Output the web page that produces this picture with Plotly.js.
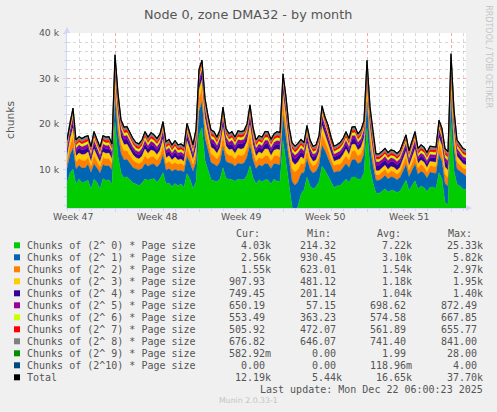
<!DOCTYPE html>
<html><head><meta charset="utf-8">
<script src="https://cdn.plot.ly/plotly-3.0.1.min.js"></script>
<style>html,body{margin:0;padding:0;background:#F0F0F0}</style>
</head><body><div id="chart" style="width:497px;height:412px"></div>
<script>
// ---- data (values in thousands of chunks), one sample every 6 hours ----
const startTime = '2025-11-19 00:00';
const stepMs = 21600000;

const chunks0 = [7.0,9.2,10.1,6.7,7.9,7.0,7.3,7.6,5.7,7.8,
7.1,5.7,8.0,7.5,7.7,6.7,20.4,12.9,9.2,8.1,
8.4,7.8,7.0,6.8,6.4,7.0,7.9,7.6,7.8,8.0,
7.1,8.0,9.3,6.8,7.0,6.2,6.9,6.4,6.8,6.0,
9.1,7.8,5.8,7.2,17.5,19.2,12.0,9.9,7.7,7.5,
7.3,7.9,10.4,8.0,7.9,7.7,7.4,7.8,7.7,7.7,
8.7,10.8,8.2,6.8,7.7,7.2,7.7,7.7,6.8,7.8,
7.4,7.3,16.4,11.7,5.9,1.8,0.7,1.9,4.5,5.5,
8.3,6.4,5.7,6.2,7.3,10.7,9.8,8.5,7.1,6.0,
6.4,6.4,7.1,7.8,7.1,8.3,8.3,7.8,7.9,9.3,
19.1,10.2,7.0,4.8,4.7,5.2,5.7,5.0,5.4,5.3,
4.9,5.2,6.4,7.6,5.3,6.5,7.5,5.7,6.3,6.0,
5.1,6.1,6.1,5.8,9.3,7.9,2.7,2.3,20.4,9.7,
6.7,6.3,5.7,5.5];
const chunks1 = [3.2,4.0,4.6,3.4,3.0,3.3,3.0,3.5,3.6,3.4,
3.2,3.5,3.0,3.3,3.1,3.2,5.6,5.0,4.3,4.0,
3.8,3.6,3.4,3.3,3.5,3.2,3.4,3.1,3.3,3.2,
3.4,3.3,3.9,3.0,3.2,3.4,3.1,3.3,3.0,3.4,
3.8,3.6,3.8,4.4,5.4,5.6,4.9,4.4,3.8,3.7,
3.4,3.7,4.6,3.8,3.5,3.6,3.3,3.6,3.5,3.7,
4.0,4.7,3.9,3.4,3.3,3.5,3.6,3.5,3.4,3.5,
3.8,3.7,5.5,5.3,5.2,5.6,5.8,5.4,4.6,3.8,
4.0,3.6,3.5,3.4,3.6,4.6,4.3,4.0,3.5,3.3,
3.2,3.2,3.3,3.5,3.3,3.8,3.9,3.5,3.7,4.1,
5.7,4.8,3.8,2.8,2.9,2.8,3.0,2.9,3.0,2.9,
2.8,3.0,3.2,3.5,3.1,3.3,3.7,3.2,3.3,3.2,
3.0,3.3,3.2,3.3,4.1,3.9,4.2,4.0,5.8,4.7,
3.4,3.3,3.2,3.1];
const chunks2 = [1.5,2.0,2.5,1.6,1.5,1.7,1.6,1.5,1.4,1.8,
1.5,1.4,1.6,1.5,1.6,1.4,2.9,2.6,2.1,1.9,
1.9,1.7,1.6,1.5,1.4,1.5,1.7,1.6,1.7,1.6,
1.5,1.7,2.0,1.5,1.6,1.5,1.5,1.4,1.5,1.4,
1.9,1.7,1.5,1.9,2.8,2.9,2.5,2.2,1.9,1.8,
1.6,1.8,2.4,1.9,1.7,1.7,1.6,1.8,1.8,1.8,
2.0,2.4,1.9,1.5,1.6,1.6,1.7,1.8,1.6,1.7,
1.8,1.8,2.8,2.7,2.6,2.8,2.9,2.7,2.2,1.8,
2.0,1.7,1.6,1.5,1.7,2.4,2.1,2.0,1.7,1.5,
1.5,1.5,1.6,1.7,1.6,1.9,1.9,1.7,1.8,2.0,
2.9,2.5,1.8,1.2,1.2,1.3,1.3,1.2,1.3,1.3,
1.2,1.3,1.5,1.7,1.4,1.5,1.8,1.4,1.5,1.4,
1.3,1.4,1.4,1.5,2.1,1.9,2.0,1.9,2.9,2.4,
1.6,1.5,1.4,1.4];
const chunks3 = [1.20,1.45,1.90,1.18,1.22,1.20,1.43,1.21,0.95,1.47,
1.19,0.96,1.22,1.20,1.18,0.94,1.92,1.88,1.46,1.44,
1.45,1.21,1.19,0.95,0.97,1.20,1.46,1.18,1.44,1.22,
1.20,1.21,1.45,1.19,1.20,0.94,1.21,0.96,0.95,0.93,
1.47,1.20,0.95,1.45,1.90,1.93,1.87,1.46,1.44,1.45,
1.20,1.44,1.90,1.46,1.19,1.45,1.21,1.43,1.45,1.47,
1.44,1.91,1.45,1.20,1.22,1.18,1.46,1.45,1.20,1.21,
1.44,1.46,1.92,1.88,1.62,1.58,1.60,1.61,1.45,1.20,
1.46,1.19,0.95,0.96,1.21,1.90,1.45,1.44,1.20,0.95,
0.94,1.20,1.21,1.45,1.19,1.46,1.44,1.20,1.45,1.46,
1.95,1.89,1.45,0.90,0.88,0.92,0.90,0.89,0.91,0.90,
0.88,0.92,1.20,1.21,0.95,1.20,1.45,0.96,0.94,0.95,
0.93,0.95,0.96,0.95,1.46,1.44,1.60,1.58,1.94,1.90,
1.20,0.95,0.94,0.96];
const chunks4 = [1.05,1.15,1.38,1.04,1.06,1.05,1.14,1.05,0.95,1.16,
1.05,0.94,1.06,1.05,1.04,0.95,1.38,1.36,1.15,1.14,
1.16,1.05,1.04,0.95,0.96,1.05,1.15,1.04,1.15,1.06,
1.05,1.05,1.15,1.04,1.05,0.95,1.06,0.94,0.95,0.96,
1.15,1.05,0.95,1.16,1.37,1.39,1.36,1.15,1.14,1.15,
1.05,1.15,1.38,1.16,1.04,1.15,1.05,1.14,1.15,1.16,
1.15,1.38,1.14,1.05,1.06,1.04,1.15,1.15,1.05,1.06,
1.15,1.14,1.39,1.37,1.30,1.31,1.29,1.30,1.15,1.05,
1.16,1.05,0.95,0.94,1.05,1.38,1.15,1.14,1.05,0.95,
0.96,1.05,1.04,1.15,1.05,1.16,1.15,1.05,1.14,1.15,
1.38,1.36,1.15,1.20,1.22,1.19,1.21,1.20,1.18,1.20,
1.21,1.19,1.05,1.04,0.95,1.05,1.15,0.94,0.95,0.96,
0.95,0.94,0.95,0.96,1.15,1.14,1.30,1.31,1.40,1.37,
1.05,0.95,0.94,0.95];
const chunks5 = [0.70,0.78,0.86,0.69,0.71,0.70,0.77,0.70,0.62,0.78,
0.70,0.61,0.71,0.70,0.69,0.62,0.87,0.85,0.78,0.77,
0.78,0.70,0.69,0.62,0.63,0.70,0.78,0.69,0.77,0.71,
0.70,0.70,0.78,0.69,0.70,0.62,0.71,0.61,0.62,0.63,
0.78,0.70,0.62,0.79,0.86,0.87,0.85,0.78,0.77,0.78,
0.70,0.78,0.86,0.79,0.69,0.78,0.70,0.77,0.78,0.79,
0.78,0.86,0.77,0.70,0.71,0.69,0.78,0.78,0.70,0.71,
0.78,0.77,0.87,0.85,0.80,0.81,0.79,0.80,0.78,0.70,
0.79,0.70,0.62,0.61,0.70,0.86,0.78,0.77,0.70,0.62,
0.63,0.70,0.69,0.78,0.70,0.79,0.78,0.70,0.77,0.78,
0.86,0.85,0.78,0.75,0.76,0.74,0.75,0.76,0.74,0.75,
0.76,0.74,0.70,0.69,0.62,0.70,0.78,0.61,0.62,0.63,
0.62,0.61,0.62,0.63,0.78,0.77,0.80,0.81,0.87,0.86,
0.70,0.62,0.61,0.62];
const chunks6 = [0.57,0.60,0.66,0.57,0.58,0.57,0.60,0.57,0.54,0.61,
0.57,0.54,0.58,0.57,0.56,0.54,0.66,0.65,0.60,0.60,
0.61,0.57,0.56,0.54,0.55,0.57,0.60,0.56,0.60,0.58,
0.57,0.57,0.60,0.56,0.57,0.54,0.58,0.53,0.54,0.55,
0.60,0.57,0.54,0.61,0.66,0.67,0.65,0.60,0.60,0.61,
0.57,0.60,0.66,0.61,0.56,0.60,0.57,0.60,0.60,0.61,
0.60,0.66,0.60,0.57,0.58,0.56,0.60,0.60,0.57,0.58,
0.60,0.60,0.67,0.65,0.62,0.63,0.61,0.62,0.60,0.57,
0.61,0.57,0.54,0.53,0.57,0.66,0.60,0.60,0.57,0.54,
0.55,0.57,0.56,0.60,0.57,0.61,0.60,0.57,0.60,0.60,
0.66,0.65,0.60,0.52,0.53,0.51,0.52,0.53,0.52,0.52,
0.53,0.51,0.57,0.56,0.54,0.57,0.60,0.53,0.54,0.55,
0.54,0.53,0.54,0.55,0.60,0.60,0.62,0.63,0.67,0.66,
0.57,0.54,0.53,0.54];
const chunks7 = [0.56,0.58,0.65,0.56,0.57,0.56,0.58,0.56,0.54,0.59,
0.56,0.54,0.57,0.56,0.55,0.54,0.65,0.64,0.58,0.58,
0.59,0.56,0.55,0.54,0.55,0.56,0.58,0.55,0.58,0.57,
0.56,0.56,0.58,0.55,0.56,0.54,0.57,0.53,0.54,0.55,
0.58,0.56,0.54,0.59,0.65,0.66,0.64,0.58,0.58,0.59,
0.56,0.58,0.65,0.59,0.55,0.58,0.56,0.58,0.58,0.59,
0.58,0.65,0.58,0.56,0.57,0.55,0.58,0.58,0.56,0.57,
0.58,0.58,0.66,0.64,0.62,0.63,0.61,0.62,0.58,0.56,
0.59,0.56,0.54,0.53,0.56,0.65,0.58,0.58,0.56,0.54,
0.55,0.56,0.55,0.58,0.56,0.59,0.58,0.56,0.58,0.58,
0.65,0.64,0.58,0.55,0.56,0.54,0.55,0.56,0.55,0.55,
0.56,0.54,0.56,0.55,0.54,0.56,0.58,0.53,0.54,0.55,
0.54,0.53,0.54,0.55,0.58,0.58,0.62,0.63,0.66,0.65,
0.56,0.54,0.53,0.54];
const chunks8 = [0.74,0.77,0.83,0.74,0.75,0.74,0.77,0.74,0.71,0.78,
0.74,0.71,0.75,0.74,0.73,0.71,0.83,0.82,0.77,0.77,
0.78,0.74,0.73,0.71,0.72,0.74,0.77,0.73,0.77,0.75,
0.74,0.74,0.77,0.73,0.74,0.71,0.75,0.70,0.71,0.72,
0.77,0.74,0.71,0.78,0.83,0.84,0.82,0.77,0.77,0.78,
0.74,0.77,0.83,0.78,0.73,0.77,0.74,0.77,0.77,0.78,
0.77,0.83,0.77,0.74,0.75,0.73,0.77,0.77,0.74,0.75,
0.77,0.77,0.84,0.82,0.80,0.81,0.79,0.80,0.77,0.74,
0.78,0.74,0.71,0.70,0.74,0.83,0.77,0.77,0.74,0.71,
0.72,0.74,0.73,0.77,0.74,0.78,0.77,0.74,0.77,0.77,
0.83,0.82,0.77,0.72,0.73,0.71,0.72,0.73,0.72,0.72,
0.73,0.71,0.74,0.73,0.71,0.74,0.77,0.70,0.71,0.72,
0.71,0.70,0.71,0.72,0.77,0.77,0.80,0.81,0.84,0.83,
0.74,0.71,0.70,0.71];
const chunks9 = [0,0,0.002,0,0,0,0.001,0,0,0,
0,0,0,0.001,0,0,0.028,0.004,0,0,
0,0.001,0,0,0,0,0.002,0,0,0,
0,0,0.003,0,0,0,0,0,0.001,0,
0.002,0,0,0,0.012,0.015,0.004,0,0,0.001,
0,0,0.003,0,0,0,0.001,0,0,0,
0.002,0.006,0,0,0,0,0.001,0,0,0,
0,0,0.010,0.003,0.002,0,0,0,0,0,
0.001,0,0,0,0,0.004,0.002,0,0,0,
0,0,0,0.001,0,0,0.001,0,0,0.002,
0.014,0.003,0,0,0,0,0,0,0,0,
0,0,0,0.001,0,0,0.002,0,0,0,
0,0,0,0,0.003,0.001,0,0,0.016,0.002,
0,0,0,0.001];
const chunks10 = [0,0,0,0,0,0,0,0,0,0,
0,0,0,0,0,0,0.004,0,0,0,
0,0,0,0,0,0,0,0,0,0,
0,0,0,0,0,0,0,0,0,0,
0,0,0,0,0,0.001,0,0,0,0,
0,0,0,0,0,0,0,0,0,0,
0,0,0,0,0,0,0,0,0,0,
0,0,0,0,0,0,0,0,0,0,
0,0,0,0,0,0,0,0,0,0,
0,0,0,0,0,0,0,0,0,0,
0.002,0,0,0,0,0,0,0,0,0,
0,0,0,0,0,0,0,0,0,0,
0,0,0,0,0,0,0,0,0.004,0,
0,0,0,0];
const totalChunks = [16.5,20.5,23.5,16.5,17.2,16.8,17.2,17.4,15.0,18.3,
16.6,14.9,17.4,17.1,17.2,15.6,35.2,26.8,20.9,19.3,
19.4,17.9,16.8,15.9,15.6,16.5,18.3,17.1,18.1,17.6,
16.8,17.8,20.5,16.1,16.6,15.4,16.3,15.4,15.6,15.1,
20.1,17.9,15.4,18.8,32.0,34.0,25.7,21.8,18.7,18.3,
17.1,18.7,23.7,19.0,17.9,18.3,17.1,18.5,18.3,18.5,
20.0,24.2,19.3,16.5,17.4,17.1,18.3,18.3,16.6,17.8,
18.3,18.1,31.0,26.0,19.4,15.9,15.1,15.7,16.6,15.9,
19.6,16.5,15.1,15.4,17.4,24.0,21.5,19.8,17.1,15.1,
15.4,15.9,16.8,18.3,16.8,19.3,19.4,17.8,18.7,20.7,
34.0,23.8,17.9,13.4,13.4,13.9,14.6,13.7,14.3,14.1,
13.5,14.1,15.9,17.6,14.1,16.1,18.3,14.6,15.4,14.9,
13.7,15.1,15.0,14.9,20.8,19.0,14.6,13.9,35.4,23.1,
16.5,15.4,14.6,14.3];

const seriesNames = ['Chunks of (2^ 0) * Page size','Chunks of (2^ 1) * Page size','Chunks of (2^ 2) * Page size',
'Chunks of (2^ 3) * Page size','Chunks of (2^ 4) * Page size','Chunks of (2^ 5) * Page size',
'Chunks of (2^ 6) * Page size','Chunks of (2^ 7) * Page size','Chunks of (2^ 8) * Page size',
'Chunks of (2^ 9) * Page size','Chunks of (2^10) * Page size','Total'];
const seriesColors = ['#00CC00','#0066B3','#FF8000','#FFCC00','#330099','#990099','#CCFF00','#FF0000','#808080','#008F00','#00487D','#000000'];
const statCur = ['4.03k','2.56k','1.55k','907.93','749.45','650.19','553.49','505.92','676.82','582.92m','0.00','12.19k'];
const statMin = ['214.32','930.45','623.01','481.12','201.14','57.15','363.23','472.07','646.07','0.00','0.00','5.44k'];
const statAvg = ['7.22k','3.10k','1.54k','1.18k','1.04k','698.62','574.58','561.89','741.40','1.99','118.96m','16.65k'];
const statMax = ['25.33k','5.82k','2.97k','1.95k','1.40k','872.49','667.85','655.77','841.00','28.00','4.00','37.70k'];
const statHeaders = ['Cur:','Min:','Avg:','Max:'];
const weekTickVals = ['2025-11-19 12:00','2025-11-26 12:00','2025-12-03 12:00','2025-12-10 12:00','2025-12-17 12:00'];
const weekTickText = ['Week 47','Week 48','Week 49','Week 50','Week 51'];

// ---- layout helpers (pixel -> paper) ----
const L = 67, R = 466, T = 33, B = 208;
const px = v => (v - L) / (R - L);
const py = v => (B - v) / (B - T);
const TXT = '#555555';
const SANS = 'DejaVu Sans';
const MONO = 'DejaVu Sans Mono';

const layers = [chunks0,chunks1,chunks2,chunks3,chunks4,chunks5,chunks6,chunks7,chunks8,chunks9,chunks10];
const traces = layers.map((arr, i) => ({
  type: 'scatter', mode: 'lines', x0: startTime, dx: stepMs, y: arr,
  stackgroup: 'one', fillcolor: seriesColors[i],
  line: {color: seriesColors[i], width: 0.4}, hoverinfo: 'skip', name: seriesNames[i]
}));
traces.push({type: 'scatter', mode: 'lines', x0: startTime, dx: stepMs, y: totalChunks,
  line: {color: '#000000', width: 1.2}, hoverinfo: 'skip', name: 'Total'});

const ann = [];
const shapes = [];
ann.push({text: 'Node 0, zone DMA32 - by month', xref: 'paper', yref: 'paper', x: px(248), y: py(14),
  xanchor: 'center', yanchor: 'middle', showarrow: false, font: {family: SANS, size: 12.8, color: TXT}});
ann.push({text: 'chunks', xref: 'paper', yref: 'paper', x: px(10), y: py(120), textangle: -90,
  xanchor: 'center', yanchor: 'middle', showarrow: false, font: {family: SANS, size: 10.7, color: TXT}});
ann.push({text: 'RRDTOOL / TOBI OETIKER', xref: 'paper', yref: 'paper', x: px(488.3), y: py(56.5), textangle: 90,
  xanchor: 'center', yanchor: 'middle', showarrow: false, font: {family: SANS, size: 8, color: '#C4C4C4'}});
weekTickVals.forEach((v, i) => ann.push({text: weekTickText[i], xref: 'x', yref: 'paper', x: v, y: py(216),
  xanchor: 'center', yanchor: 'middle', showarrow: false, font: {family: SANS, size: 9.33, color: TXT}}));

const hdrX = [235.2, 306.2, 376.2, 446.8];
statHeaders.forEach((h, j) => ann.push({text: h, xref: 'paper', yref: 'paper', x: px(hdrX[j]), y: py(233.3),
  xanchor: 'left', yanchor: 'middle', showarrow: false, borderpad: 0, font: {family: MONO, size: 10, color: TXT}}));
const colRight = [271.6, 342.8, 412.8, 483.6];
const cols = [statCur, statMin, statAvg, statMax];
seriesNames.forEach((name, i) => {
  const cy = 245.7 + 12 * i;
  shapes.push({type: 'rect', xref: 'paper', yref: 'paper', x0: px(14), x1: px(20), y0: py(cy + 2.6), y1: py(cy - 3.4),
    fillcolor: seriesColors[i], line: {width: 0}});
  ann.push({text: name, xref: 'paper', yref: 'paper', x: px(26), y: py(cy), xanchor: 'left', yanchor: 'middle',
    showarrow: false, borderpad: 0, font: {family: MONO, size: 10, color: TXT}});
  cols.forEach((col, j) => {
    const s = col[i];
    const t = /[km]$/.test(s) ? s : s + '\u00A0';
    ann.push({text: t, xref: 'paper', yref: 'paper', x: px(colRight[j]), y: py(cy), xanchor: 'right', yanchor: 'middle',
      showarrow: false, borderpad: 0, font: {family: MONO, size: 10, color: TXT}});
  });
});
ann.push({text: 'Last update: Mon Dec 22 06:00:23 2025', xref: 'paper', yref: 'paper', x: px(484), y: py(389.6),
  xanchor: 'right', yanchor: 'middle', showarrow: false, borderpad: 0, font: {family: MONO, size: 10, color: TXT}});
ann.push({text: 'Munin 2.0.33-1', xref: 'paper', yref: 'paper', x: px(248.5), y: py(400.8),
  xanchor: 'center', yanchor: 'middle', showarrow: false, font: {family: SANS, size: 7.8, color: '#C4C4C4'}});

// axis arrows
const AX = '#CFD6F8';
shapes.push({type: 'path', xref: 'paper', yref: 'paper',
  path: `M ${px(64)},${py(33)} L ${px(70)},${py(33)} L ${px(67)},${py(27)} Z`, fillcolor: AX, line: {width: 0}});
shapes.push({type: 'path', xref: 'paper', yref: 'paper',
  path: `M ${px(466)},${py(205)} L ${px(466)},${py(211)} L ${px(472)},${py(208)} Z`, fillcolor: AX, line: {width: 0}});

const layout = {
  width: 497, height: 412,
  paper_bgcolor: '#F0F0F0', plot_bgcolor: '#FFFFFF',
  margin: {l: L, r: 497 - R, t: T, b: 412 - B, pad: 0},
  showlegend: false,
  xaxis: {type: 'date', range: ['2025-11-19 00:00', '2025-12-22 06:00'],
    tick0: '2025-11-23', dtick: 604800000, showticklabels: false,
    ticks: 'outside', ticklen: 3, tickcolor: AX,
    showgrid: true, gridcolor: 'rgba(240,60,60,0.45)', griddash: 'dot', gridwidth: 1,
    minor: {tick0: '2025-11-23', dtick: 86400000, showgrid: true, gridcolor: 'rgba(140,140,140,0.35)', griddash: 'dot',
      ticks: 'outside', ticklen: 2, tickcolor: AX},
    showline: true, linecolor: AX, linewidth: 1, zeroline: false, fixedrange: true},
  yaxis: {range: [1.5, 40], tick0: 0, dtick: 10, ticksuffix: ' k',
    ticks: 'outside', ticklen: 3, tickcolor: AX, ticklabelstandoff: 2,
    tickfont: {family: SANS, size: 9.33, color: TXT},
    showgrid: true, gridcolor: 'rgba(240,60,60,0.45)', griddash: 'dot', gridwidth: 1,
    minor: {dtick: 2, showgrid: true, gridcolor: 'rgba(140,140,140,0.35)', griddash: 'dot',
      ticks: 'outside', ticklen: 2, tickcolor: AX},
    showline: true, linecolor: AX, linewidth: 1, zeroline: false, fixedrange: true},
  annotations: ann,
  shapes: shapes
};
Plotly.newPlot('chart', traces, layout, {displayModeBar: false, staticPlot: true});
</script></body></html>
